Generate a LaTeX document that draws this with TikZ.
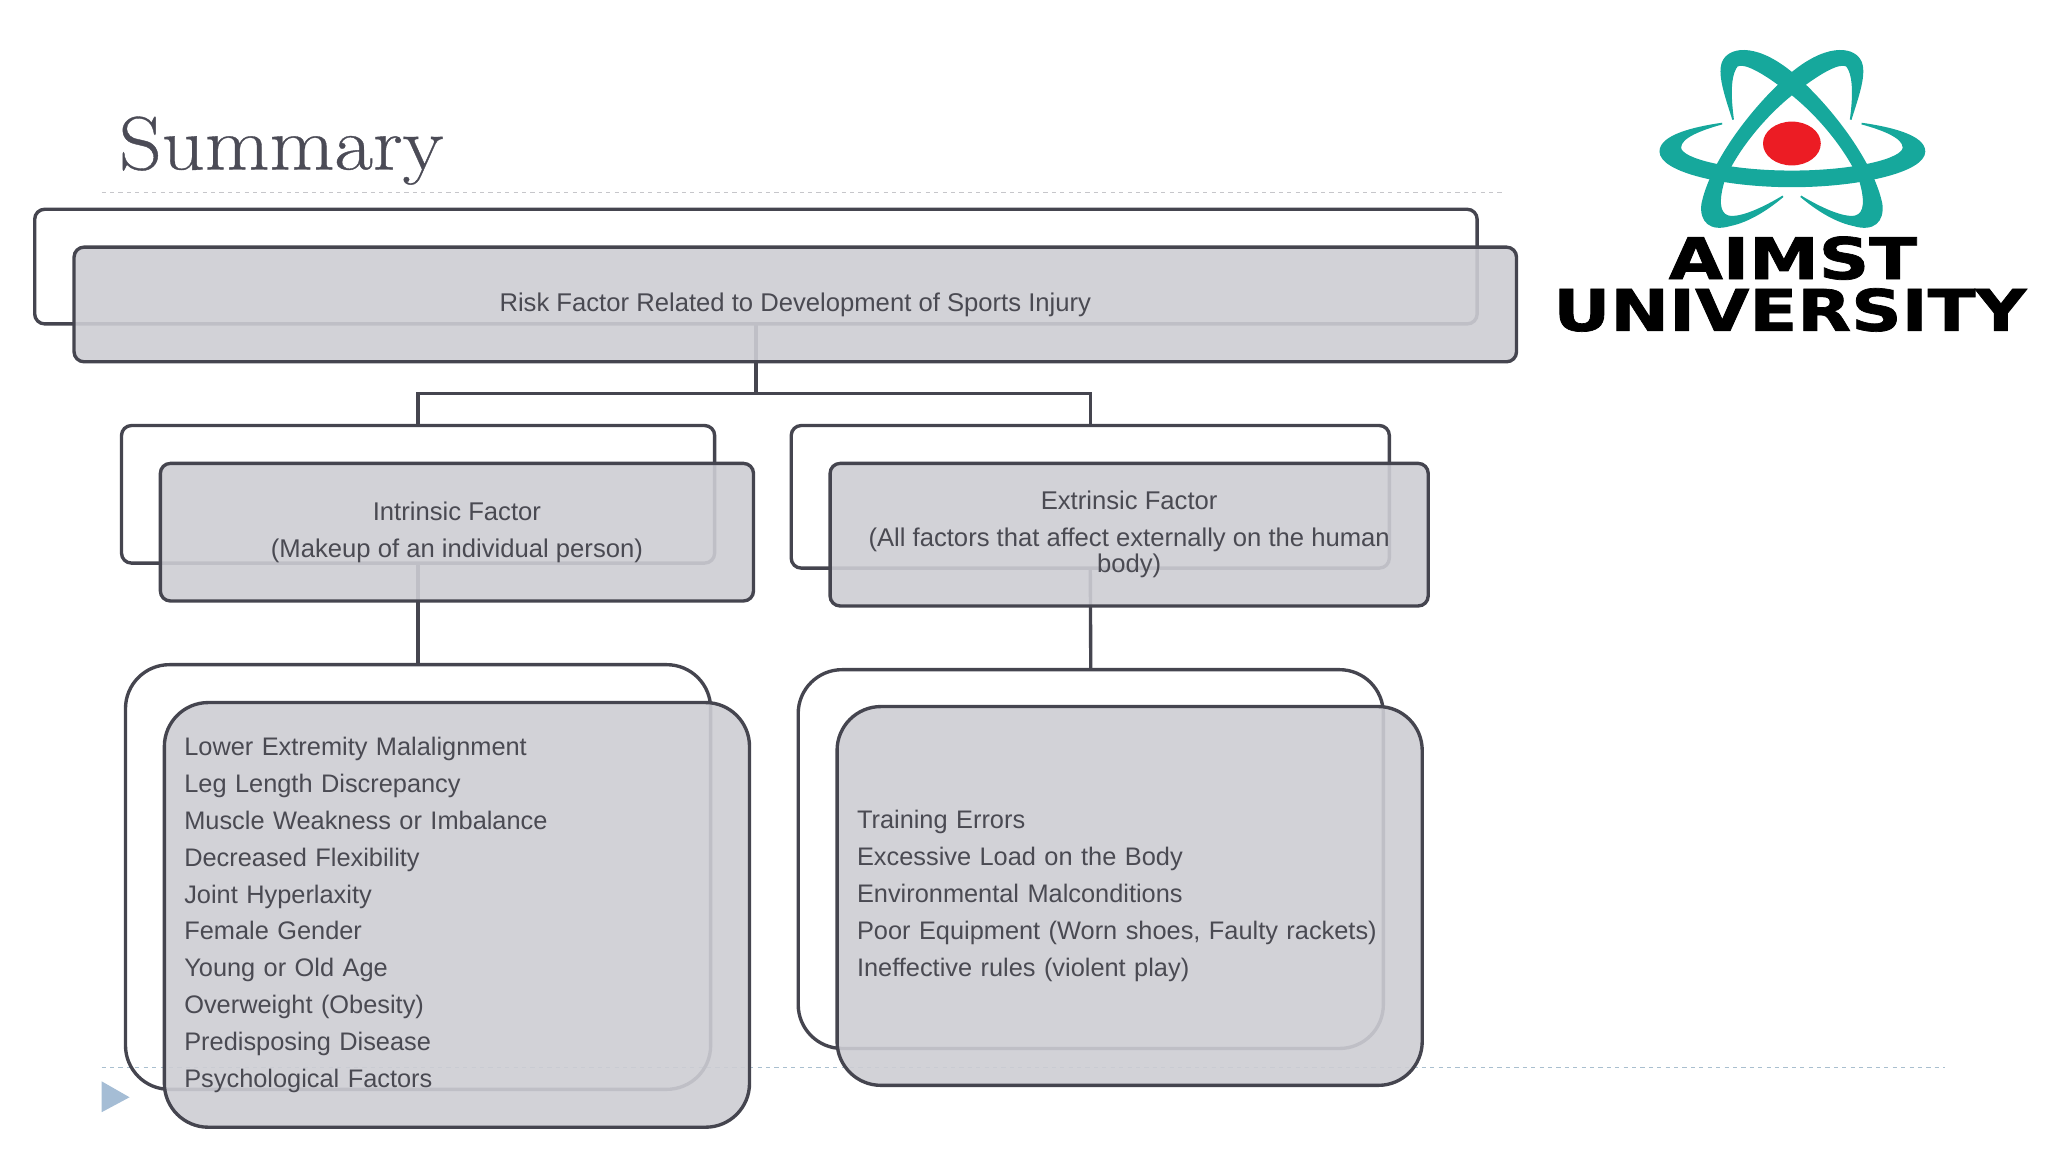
\documentclass[tikz,border=0pt]{standalone}
\usepackage{fontspec}
\newfontfamily\labelfont{Liberation Sans}
\newfontfamily\logofont{DejaVu Sans}[FakeBold=1.2]
\newfontfamily\titlefont{Latin Modern Roman}[FakeBold=.5,FakeStretch=1.11]
\definecolor{boxline}{HTML}{45454F}
\definecolor{boxfill}{HTML}{CDCDD3}
\definecolor{labelgray}{HTML}{4A4A52}
\definecolor{titlegray}{HTML}{4B4B56}
\definecolor{rulegray}{HTML}{C6C6CA}
\definecolor{ruleblue}{HTML}{A9BFCF}
\definecolor{markerblue}{HTML}{A5BDD5}
\definecolor{logoteal}{HTML}{16A89C}
\definecolor{logored}{HTML}{EC1C24}
\tikzset{
	backbox/.style={draw=boxline,line width=2.4pt,rounded corners=.25cm,outer sep=0pt},
	frontbox/.style={backbox,fill=boxfill,fill opacity=.9,text opacity=1,text=labelgray,
		font=\labelfont\fontsize{18.3}{26.3}\selectfont,align=center},
	listbox/.style={frontbox,rounded corners=1.1cm,align=left,inner xsep=.5cm,text width=13.675cm,
		font=\labelfont\fontsize{18.1}{26.3}\selectfont},
	link/.style={draw=boxline,line width=2.4pt},
	orbit/.style={fill=logoteal,draw=logoteal,line width=1.2pt}
}
\begin{document}
\begin{tikzpicture}[x=.025cm,y=-.025cm]
	\useasboundingbox (0,0) rectangle (2055,1156);
	
	\coordinate (bus) at (758.5,395);
	
	\node [font=\titlefont\fontsize{54}{54}\selectfont,text=titlegray,anchor=base west,inner sep=0pt] (title) at (119,170) {Summary};
	\draw [dashed,draw=rulegray,line width=1.2pt] (102,193) -- (1507,193);
	\draw [dashed,draw=ruleblue,line width=1.2pt] (102,1071) -- (1952,1071);
	\fill [markerblue] (102,1085) -- (130,1101) -- (102,1116) -- cycle;
	
	% back row
	\node [backbox,minimum width=36.175cm,minimum height=2.875cm] (topback) at (758.5,267.5) {};
	\node [backbox,minimum width=14.875cm,minimum height=3.45cm] (midleftback) at (419.5,496) {};
	\node [backbox,minimum width=15cm,minimum height=3.575cm] (midrightback) at (1094,498.5) {};
	\node [backbox,rounded corners=1.1cm,minimum width=14.675cm,minimum height=10.65cm] (lowleftback) at (419.5,880) {};
	\node [backbox,rounded corners=1.1cm,minimum width=14.675cm,minimum height=9.5cm] (lowrightback) at (1094.5,862) {};
	
	\draw [link] (topback.south) -- (bus);
	\draw [link] (midleftback.north) |- (bus) -| (midrightback.north);
	\draw [link] (midleftback.south) -- (lowleftback.north);
	\draw [link] (midrightback.south) -- (lowrightback.north);
	
	% front row
	\node [frontbox,minimum width=36.175cm,minimum height=2.875cm] (topfront) at (798,305.5) {Risk Factor Related to Development of Sports Injury};
	\node [frontbox,minimum width=14.875cm,minimum height=3.45cm] (midleftfront) at (458.5,534) {Intrinsic Factor\\(Makeup of an individual person)};
	\node [frontbox,minimum width=15cm,minimum height=3.575cm] (midrightfront) at (1133,536.5) {Extrinsic Factor\\(All factors that affect externally on the human\\[-7.5pt]body)};
	\node [listbox,minimum height=10.65cm] (lowleftfront) at (458.5,918) {Lower Extremity Malalignment\\Leg Length Discrepancy\\Muscle Weakness or Imbalance\\Decreased Flexibility\\Joint Hyperlaxity\\Female Gender\\Young or Old Age\\Overweight (Obesity)\\Predisposing Disease\\Psychological Factors};
	\node [listbox,minimum height=9.5cm] (lowrightfront) at (1133.5,899) {Training Errors\\Excessive Load on the Body\\Environmental Malconditions\\Poor Equipment (Worn shoes, Faulty rackets)\\Ineffective rules (violent play)};
	
	% logo
	\fill [orbit] (1728,124) .. controls (1700,128) and (1666,136) .. (1666,152) .. controls (1666,172) and (1730,187) .. (1798,187) .. controls (1866,187) and (1931,172) .. (1931,152) .. controls (1931,136) and (1896,128) .. (1868,124) .. controls (1890,130) and (1910,138) .. (1910,148) .. controls (1910,160) and (1860,172) .. (1798,172) .. controls (1736,172) and (1686,160) .. (1686,148) .. controls (1686,138) and (1706,130) .. (1728,124) -- cycle;
	\foreach \flip/\off in {1/0,-1/3596} {
		\begin{scope}[shift={(\off,0)},xscale=\flip]
			\fill [orbit] (1739,120) .. controls (1733,100) and (1722,72) .. (1730,60) .. controls (1738,47) and (1765,45) .. (1800,75) .. controls (1840,110) and (1880,165) .. (1888,205) .. controls (1890,222) and (1880,232) .. (1860,226) .. controls (1840,222) and (1820,208) .. (1807,197) .. controls (1825,208) and (1850,220) .. (1862,217) .. controls (1872,214) and (1872,200) .. (1866,180) .. controls (1853,150) and (1823,112) .. (1788,87) .. controls (1768,72) and (1750,62) .. (1743,66) .. controls (1734,77) and (1737,105) .. (1739,120) -- cycle;
		\end{scope}
	}
	\fill [logored] (1798,144) ellipse (29 and 22);
	\node [font=\logofont\bfseries\fontsize{41}{41}\selectfont,anchor=base,inner sep=0pt] (logotop) at (1799,280) {\scalebox{1.22}[1]{AIMST}};
	\node [font=\logofont\bfseries\fontsize{41}{41}\selectfont,anchor=base,inner sep=0pt] (logobottom) at (1796,332) {\scalebox{1.22}[1]{UNIVERSITY}};
\end{tikzpicture}
\end{document}
